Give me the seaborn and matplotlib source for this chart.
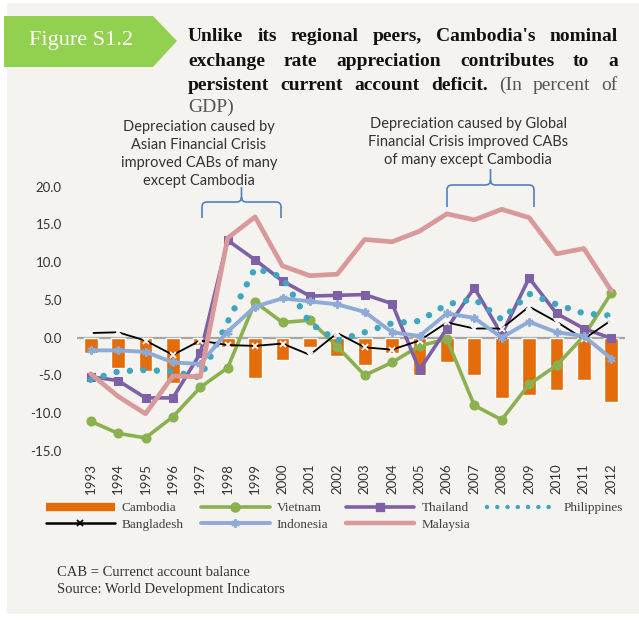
import numpy as np
import pandas as pd
import seaborn as sns
import matplotlib.pyplot as plt
from matplotlib.patches import Polygon, Rectangle, PathPatch
from matplotlib.path import Path
from matplotlib.lines import Line2D

# 1. DATA (current account balance, % of GDP)
years = list(range(1993, 2013))
cambodia = [-2.0, -4.0, -4.4, -6.0, -1.0, -1.2, -5.3, -3.0, -1.2, -2.4,
            -3.7, -2.1, -4.9, -3.2, -4.9, -8.0, -7.6, -6.9, -5.6, -8.6]
vietnam = [-11.1, -12.7, -13.3, -10.5, -6.6, -4.0, 4.7, 2.0, 2.3, -1.2,
           -5.0, -3.3, -1.1, -0.2, -9.0, -10.9, -6.2, -3.7, 0.2, 5.9]
thailand = [-5.2, -5.7, -8.0, -8.0, -2.1, 12.9, 10.3, 7.5, 5.5, 5.6,
            5.7, 4.5, -4.3, 1.2, 6.6, 0.4, 7.9, 3.2, 1.2, -0.1]
philippines = [-5.6, -4.5, -4.3, -4.5, -5.3, 2.1, 9.2, 8.0, 1.9, -0.4,
               0.7, 1.9, 2.2, 4.4, 5.1, 2.4, 5.8, 4.4, 3.2, 2.9]
bangladesh = [0.6, 0.7, -0.4, -2.3, -0.4, -1.0, -1.1, -0.8, -2.3, 0.6,
              -1.3, -1.6, -0.4, 2.0, 1.2, 1.2, 4.1, 2.1, -0.2, 2.3]
indonesia = [-1.7, -1.7, -1.9, -3.3, -3.5, 0.8, 4.1, 5.2, 4.8, 4.4,
             3.4, 0.7, 0.2, 3.2, 2.6, 0.0, 2.1, 0.7, 0.2, -2.8]
malaysia = [-4.8, -7.8, -10.1, -5.1, -5.2, 13.2, 16.0, 9.5, 8.2, 8.4,
            13.0, 12.7, 14.1, 16.4, 15.6, 17.0, 15.9, 11.1, 11.8, 6.2]
y_ticks = [-15, -10, -5, 0, 5, 10, 15, 20]

# 2. STYLE
W, H = 639, 620
SANS = 'Lato'
SERIF = 'Liberation Serif'
ORANGE = '#E46C0A'
GREEN = '#8BB04E'
PURPLE = '#7D60A6'
TEAL = '#3FA6BF'
LBLUE = '#8EABD8'
PINK = '#D9999A'
BRACE = '#4F81BD'

sns.set_style('white')
plt.rcParams['font.family'] = [SANS, 'DejaVu Sans']
plt.rcParams['axes.unicode_minus'] = False


def fx(x):
    return x / W


def fy(y):
    return 1 - y / H


fig = plt.figure(figsize=(W / 100, H / 100), dpi=100, facecolor='white')

# light panel behind everything
fig.add_artist(Rectangle((fx(7), fy(614)), fx(639 - 7), (614 - 3) / H,
                         transform=fig.transFigure, facecolor='#F4F3EF',
                         edgecolor='none', zorder=0))

# 3. CHART
ax = fig.add_axes([fx(77), fy(450.7), fx(548), (450.7 - 186.7) / H])
ax.set_facecolor('none')

sns.barplot(x=years, y=cambodia, native_scale=True, width=0.5,
            color=ORANGE, saturation=1, ax=ax, zorder=2)
ax.axhline(0, color='#A6A6A6', lw=1.6, zorder=1)

sns.lineplot(x=years, y=vietnam, ax=ax, color=GREEN, lw=2.6,
             marker='o', ms=6.5, mec=GREEN, zorder=3)
sns.lineplot(x=years, y=thailand, ax=ax, color=PURPLE, lw=2.6,
             marker='s', ms=5.5, mec=PURPLE, zorder=3)
sns.lineplot(x=years, y=philippines, ax=ax, color=TEAL, lw=4.6,
             linestyle=(0, (0.01, 2.1)), dash_capstyle='round', zorder=3)
sns.lineplot(x=years, y=bangladesh, ax=ax, color='black', lw=1.3,
             marker='x', ms=4.5, mew=1.3, zorder=4)
sns.lineplot(x=years, y=indonesia, ax=ax, color=LBLUE, lw=2.8,
             marker=(6, 2, 0), ms=6, mew=1.5, mec=LBLUE, zorder=4)
sns.lineplot(x=years, y=malaysia, ax=ax, color=PINK, lw=3.4, zorder=5)

ax.set_xlim(years[0] - 0.5, years[-1] + 0.5)
ax.set_ylim(-15, 20)
ax.set_yticks(y_ticks)
ax.set_yticklabels([f'{v:.1f}' for v in y_ticks])
ax.set_xticks(years)
ax.set_xticklabels([str(y) for y in years], rotation=90)
ax.tick_params(axis='x', length=0, pad=9, labelsize=9.5, labelcolor='#333333')
ax.tick_params(axis='y', length=0, pad=11, labelsize=9.5, labelcolor='#333333')
ax.set_xlabel('')
ax.set_ylabel('')
for s in ax.spines.values():
    s.set_visible(False)
ax.grid(False)

# 4. LEGEND
handles = [
    Line2D([], [], color=ORANGE, lw=6, solid_capstyle='butt'),
    Line2D([], [], color='black', lw=1.8, marker='x', ms=4.5, mew=1.3),
    Line2D([], [], color=GREEN, lw=2.6, marker='o', ms=6.5),
    Line2D([], [], color=LBLUE, lw=2.8, marker=(6, 2, 0), ms=6, mew=1.5),
    Line2D([], [], color=PURPLE, lw=2.6, marker='s', ms=5.5),
    Line2D([], [], color=PINK, lw=3.2),
    Line2D([], [], color=TEAL, lw=3.2, linestyle=(0, (0.01, 2.3)),
           dash_capstyle='round'),
]
labels = ['Cambodia', 'Bangladesh', 'Vietnam', 'Indonesia',
          'Thailand', 'Malaysia', 'Philippines']
leg = fig.legend(handles, labels, ncol=4, loc='upper left',
                 bbox_to_anchor=(fx(46), fy(502)), frameon=False,
                 prop={'family': SERIF, 'size': 9.5},
                 handlelength=5.2, handletextpad=0.55, columnspacing=1.3,
                 labelspacing=0.35, borderpad=0, borderaxespad=0,
                 numpoints=1)
for t in leg.get_texts():
    t.set_color('#404040')

# 5. HEADER BADGE AND TITLE
fig.add_artist(Polygon([(fx(4), fy(16)), (fx(153), fy(16)), (fx(177), fy(41)),
                        (fx(153), fy(67)), (fx(4), fy(67))],
                       closed=True, transform=fig.transFigure,
                       facecolor='#92D050', edgecolor='none'))
fig.text(fx(81), fy(41), 'Figure S1.2', family=SERIF, size=16,
         color='white', ha='center', va='center')

renderer = fig.canvas.get_renderer()


def justify(words, x0, x1, y, justify_line=True):
    items = []
    for word, bold, color in words:
        t = fig.text(0, 0, word, family=SERIF, size=14,
                     weight='bold' if bold else 'normal', color=color,
                     va='baseline', ha='left')
        items.append((t, t.get_window_extent(renderer).width))
    total = sum(w for _, w in items)
    if justify_line and len(items) > 1:
        gap = (x1 - x0 - total) / (len(items) - 1)
    else:
        gap = 4
    x = x0
    for t, w in items:
        t.set_position((fx(x), fy(y)))
        x += w + gap


BK = '#111111'
GR = '#555555'
title_lines = [
    ([(w, True, BK) for w in "Unlike its regional peers, Cambodia's nominal".split()], 41),
    ([(w, True, BK) for w in "exchange rate appreciation contributes to a".split()], 65.5),
    ([(w, True, BK) for w in "persistent current account deficit.".split()]
     + [(w, False, GR) for w in "(In percent of".split()], 90),
]
for words, base in title_lines:
    justify(words, 188, 618, base)
justify([('GDP)', False, GR)], 188, 618, 112, justify_line=False)

# 6. ANNOTATIONS WITH BRACES
fig.text(fx(199), fy(154), 'Depreciation caused by\nAsian Financial Crisis\n'
         'improved CABs of many\nexcept Cambodia', ha='center', va='center',
         size=10.5, color='#333333', linespacing=1.38)
fig.text(fx(468), fy(142), 'Depreciation caused by Global\n'
         'Financial Crisis improved CABs\nof many except Cambodia',
         ha='center', va='center', size=10.5, color='#333333', linespacing=1.38)


def brace(xl, xr, ytop, ybot, ytip, r=5):
    xm = (xl + xr) / 2
    pts = [(xl, ybot), (xl, ytop + r), (xl, ytop), (xl + r, ytop),
           (xm - r, ytop), (xm, ytop), (xm, ytop - r), (xm, ytip),
           (xm, ytop - r), (xm, ytop), (xm + r, ytop),
           (xr - r, ytop), (xr, ytop), (xr, ytop + r), (xr, ybot)]
    codes = [Path.MOVETO, Path.LINETO, Path.CURVE3, Path.CURVE3,
             Path.LINETO, Path.CURVE3, Path.CURVE3, Path.LINETO,
             Path.MOVETO, Path.CURVE3, Path.CURVE3,
             Path.LINETO, Path.CURVE3, Path.CURVE3, Path.LINETO]
    path = Path([(fx(a), fy(b)) for a, b in pts], codes)
    fig.add_artist(PathPatch(path, transform=fig.transFigure, fill=False,
                             edgecolor=BRACE, lw=1.2))


brace(202, 281, 202, 218, 187)
brace(447, 534, 185, 207, 169)

# 7. FOOTNOTE
fig.text(fx(57), fy(572), 'CAB = Currenct account balance', family=SERIF,
         size=10.5, color='#333333', va='center')
fig.text(fx(57), fy(589.5), 'Source: World Development Indicators',
         family=SERIF, size=10.5, color='#333333', va='center')

fig.savefig('out.png', dpi=100, facecolor='white')
plt.close(fig)
